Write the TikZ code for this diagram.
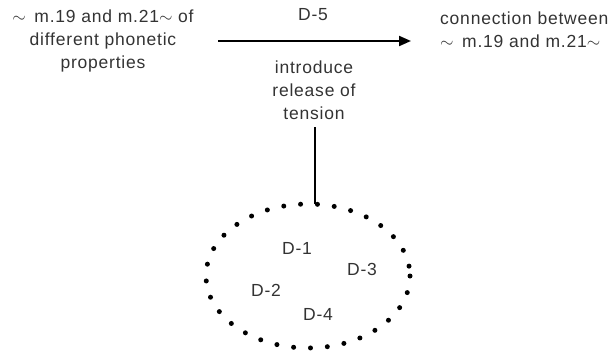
\documentclass[tikz,border=0pt]{standalone}
\usepackage{fontspec}
\setmainfont{Liberation Sans}[LetterSpace=4.5]
\usetikzlibrary{arrows.meta}
\begin{document}
\begin{tikzpicture}[x=1pt,y=-1pt,
  lbl/.style={text=black!80, font=\fontsize{17.5}{23}\selectfont, align=center, inner sep=0pt},
  dlbl/.style={text=black!80, font=\fontsize{17.5}{20}\selectfont, inner sep=0pt},
  dotring/.style={line width=5pt, dash pattern=on 0pt off 16.9pt, line cap=round}]
\useasboundingbox (0,0) rectangle (613,353);
% left and right statements
\node[lbl] (src) at (103,41) {$\sim$\, m.19 and m.21$\sim$ of\\different phonetic\\properties};
\node[lbl, align=left, anchor=west] (dst) at (440,30) {connection between\\$\sim$\, m.19 and m.21$\sim$};
% transition arrow with its labels
\coordinate (a0) at (218,41);
\coordinate (a1) at (411,41);
\draw[line width=2pt, -{Triangle[length=12pt,width=10pt]}] (a0) -- (a1);
\node[lbl] (d5) at (313,15) {D-5};
\node[lbl] (why) at (314,90) {introduce\\release of\\tension};
% group of motives
\coordinate (ec) at (308,276);
\draw[dotring] (ec) ellipse [x radius=102, y radius=72];
\coordinate (vtop) at (315,127);
\coordinate (vbot) at (315,204);
\draw[line width=2pt] (vtop) -- (vbot);
\node[dlbl] (d1) at (297,248) {D-1};
\node[dlbl] (d3) at (362,269) {D-3};
\node[dlbl] (d2) at (266,290) {D-2};
\node[dlbl] (d4) at (318,314) {D-4};
\end{tikzpicture}
\end{document}
